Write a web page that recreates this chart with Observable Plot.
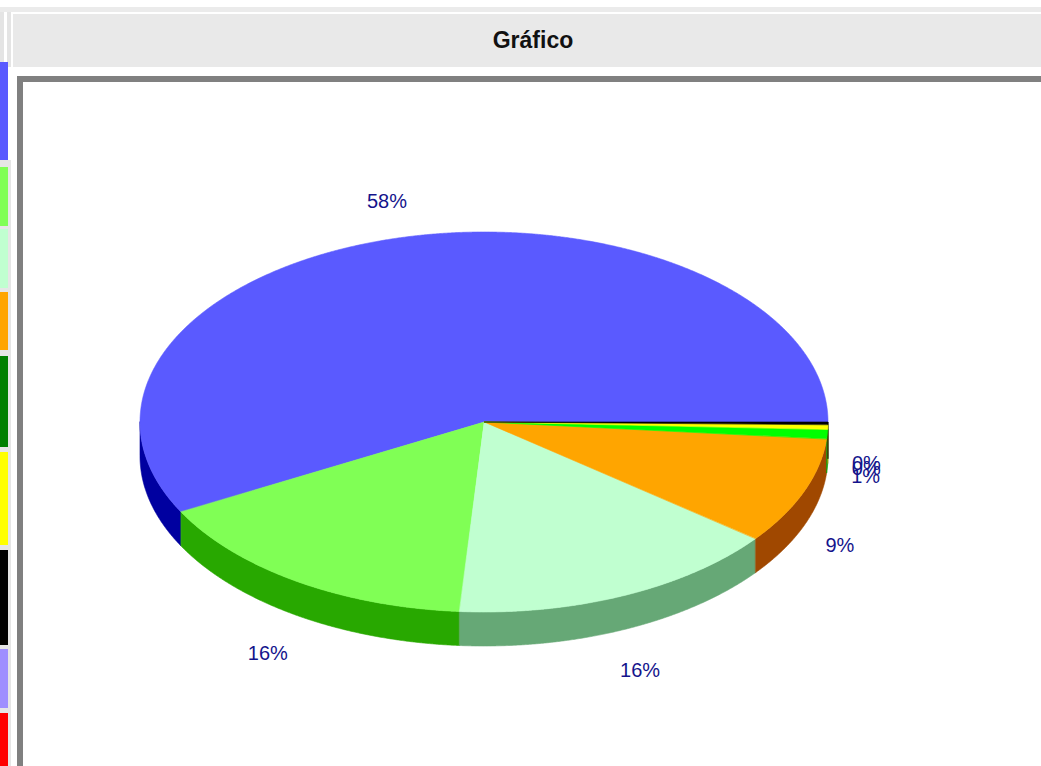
<!DOCTYPE html>
<html><head><meta charset="utf-8">
<script src="https://cdn.jsdelivr.net/npm/d3@7"></script>
<script src="https://cdn.jsdelivr.net/npm/@observablehq/plot@0.6"></script>
<style>
body{margin:0;width:1041px;height:766px;overflow:hidden;background:#fff;position:relative;font-family:"Liberation Sans",Arial,sans-serif}
#topband{position:absolute;left:0;top:7px;width:1041px;height:5px;background:#ebebeb}
#hleft1{position:absolute;left:0;top:12px;width:4px;height:55px;background:#e4e4e4}
#hleft2{position:absolute;left:7px;top:12px;width:4px;height:55px;background:#e4e4e4}
#header{position:absolute;left:13px;top:14px;width:1028px;height:53px;background:#e9e9e9;text-align:center;line-height:53px;font-weight:bold;font-size:23px;color:#111;box-sizing:border-box;padding-left:12px}
#legend{position:absolute;left:0;top:0;width:11px;height:766px}
#frame{position:absolute;left:17px;top:76px;width:1030px;height:700px;border-left:6px solid #808080;border-top:6px solid #808080;box-sizing:border-box}
#chart{position:absolute;left:23px;top:82px}
</style></head><body>
<div id="topband"></div>
<div id="hleft1"></div><div id="hleft2"></div>
<div id="header">Gráfico</div>
<div id="legend"></div>
<div id="frame"></div>
<div id="chart"></div>
<script>
// ---- data ----
const categories = ["Categoria 1","Categoria 2","Categoria 3","Categoria 4","Categoria 5","Categoria 6","Categoria 7","Categoria 8","Categoria 9"];
const values = [57.8, 16.0, 15.6, 9.1, 0.8, 0.4, 0.2, 0, 0];
const legendColors = ["#5a5aff","#80ff55","#c0ffd0","#ffa500","#008000","#ffff00","#000000","#9f8fff","#ff0000"];
const topColors = ["#5a5aff","#80ff55","#c0ffd0","#ffa500","#00ff00","#ffff00","#000000","#9f8fff","#ff0000"];
const sideColors = ["#0000a0","#28a800","#66a876","#a04800","#00a000","#a0a000","#000000","#6050a0","#a00000"];

// ---- legend strip (layout) ----
const legendRows = [[62,160],[167,226],[229,288],[292,350],[356,447],[452,545],[550,645],[649,708],[713,770]];
const leg = document.getElementById("legend");
const g = document.createElement("div");
g.style.cssText = "position:absolute;left:0;top:160px;width:11px;height:606px;background:#e6e6e6";
leg.appendChild(g);
legendRows.forEach(([a,b],i)=>{
  const d = document.createElement("div");
  d.title = categories[i];
  d.style.cssText = `position:absolute;left:0;top:${a}px;width:8px;height:${b-a}px;background:${legendColors[i]}`;
  leg.appendChild(d);
});

// ---- pie geometry ----
const total = d3.sum(values);
const depth = 34/190;
const sideRows = [], topRows = [], labelRows = [];
let a0 = 0;
values.forEach((v,i)=>{
  if (v <= 0) return;
  const a1 = a0 + v/total*2*Math.PI;
  const n = Math.max(2, Math.ceil((a1-a0)/0.004));
  for (let j=0;j<=n;j++){
    const t = a0 + (a1-a0)*j/n;
    topRows.push({k:i, x1:Math.cos(t), y1:Math.sin(t), x2:0, y2:0, c:topColors[i]});
  }
  const lo = Math.max(a0, Math.PI), hi = Math.min(a1, 2*Math.PI);
  if (hi > lo){
    const m = Math.max(2, Math.ceil((hi-lo)/0.004));
    for (let j=0;j<=m;j++){
      const t = lo + (hi-lo)*j/m;
      sideRows.push({k:i, x1:Math.cos(t), y1:Math.sin(t), x2:Math.cos(t), y2:Math.sin(t)-depth, c:sideColors[i]});
    }
  }
  const mid = (a0+a1)/2, s = Math.sin(mid), c = Math.cos(mid);
  labelRows.push({x:(c<0?1.16:1.11)*c, y:1.2*s - (s<0?0.21:0), text:Math.round(v/total*100)+"%"});
  a0 = a1;
});

const chart = Plot.plot({
  width:1018, height:684, margin:0,
  x:{domain:[-1,1], range:[117,805], axis:null},
  y:{domain:[-1,1], range:[530,150], axis:null},
  marks:[
    Plot.area(sideRows,{x1:"x1",y1:"y1",x2:"x2",y2:"y2",z:"k",fill:"c",stroke:"c",strokeWidth:0.6,curve:"linear"}),
    Plot.area(topRows,{x1:"x1",y1:"y1",x2:"x2",y2:"y2",z:"k",fill:"c",stroke:"c",strokeWidth:0.6,curve:"linear"}),
    Plot.text(labelRows,{x:"x",y:"y",text:"text",fill:"#14148c",fontSize:20,fontFamily:"Liberation Sans, Arial, sans-serif",textAnchor:"middle"})
  ]
});
document.getElementById("chart").appendChild(chart);
</script>
</body></html>
